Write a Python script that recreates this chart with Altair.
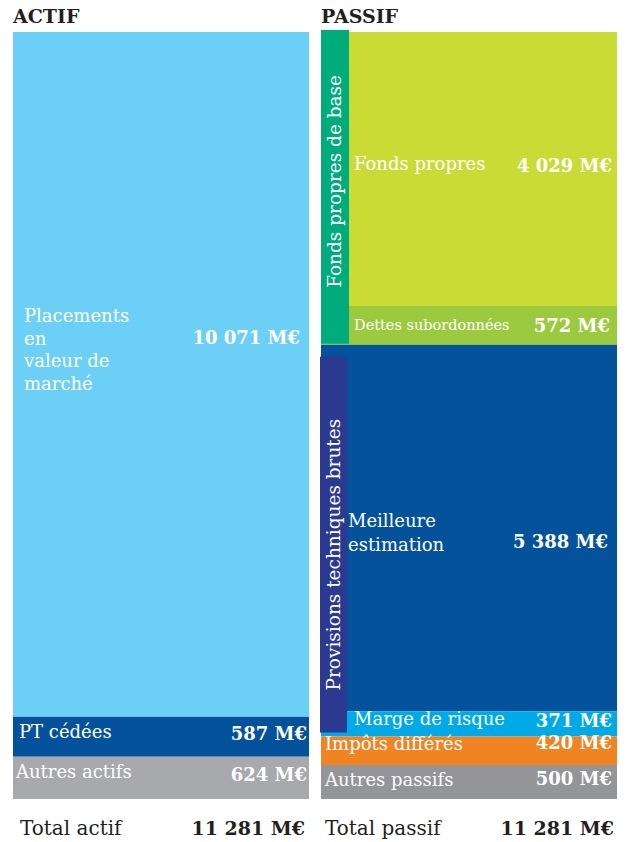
import altair as alt
import pandas as pd

# ---------------- data ----------------
actif_labels = ["Placements\nen\nvaleur de\nmarché", "PT cédées", "Autres actifs"]
actif_values = [10071, 587, 624]
actif_colors = ["#6BCFF6", "#04529B", "#A7A9AC"]

passif_labels = ["Fonds propres", "Dettes subordonnées", "Meilleure\nestimation",
                 "Marge de risque", "Impôts différés", "Autres passifs"]
passif_values = [4029, 572, 5388, 371, 420, 500]
passif_colors = ["#CADB36", "#9CCA3E", "#04529B", "#00A9E7", "#F18422", "#939598"]
passif_groups = ["Fonds propres de base", "Fonds propres de base",
                 "Provisions techniques brutes", "Provisions techniques brutes", "", ""]

group_names = ["Fonds propres de base", "Provisions techniques brutes"]
group_colors = ["#00AC7B", "#2B3990"]

titles = ["ACTIF", "PASSIF"]
total_labels = ["Total actif", "Total passif"]
total_actif = 11281
total_passif = 11281


def fmt(v):
    return f"{v:,}".replace(",", " ") + " M€"


rows = []
for i, (l, v) in enumerate(zip(actif_labels, actif_values)):
    rows.append(dict(side="actif", label=l, value=v, order=i, group="", vtxt=fmt(v)))
for i, (l, v, g) in enumerate(zip(passif_labels, passif_values, passif_groups)):
    rows.append(dict(side="passif", label=l, value=v, order=i, group=g, vtxt=fmt(v)))
df = pd.DataFrame(rows)

# ---------------- layout / style ----------------
W, H = 628, 842
Y = alt.Scale(domain=[0, total_actif], range=[32, 799], nice=False, zero=False)
SERIF = "DejaVu Serif"
COLX = {"actif": (13, 309), "passif": (321, 617)}
COLOR = alt.Scale(domain=actif_labels + passif_labels, range=actif_colors + passif_colors)

# per-label style: (label x, label dy, label size, value right x, value dy)
STYLE = {
    actif_labels[0]: (24, -57, 18, 300, -35),
    actif_labels[1]: (19, -4, 18, 307, -2),
    actif_labels[2]: (16, -5, 18, 307, -2),
    passif_labels[0]: (354, -4, 18, 612, -2),
    passif_labels[1]: (354, 1, 14.5, 610, 2),
    passif_labels[2]: (348, -6, 18, 608, 15),
    passif_labels[3]: (354, -4, 18, 612, -2),
    passif_labels[4]: (325, -6, 18, 612, -7),
    passif_labels[5]: (325, -1, 18, 612, -2),
}
LINE_H = {actif_labels[0]: 22.5, passif_labels[2]: 24}

base = alt.Chart(df).transform_window(
    cum="sum(value)", frame=[None, 0], groupby=["side"], sort=[{"field": "order"}]
).transform_calculate(
    start="datum.cum - datum.value", mid="datum.cum - datum.value / 2"
)

layers = []
# blocks
for side in ["actif", "passif"]:
    x0, x1 = COLX[side]
    layers.append(
        base.transform_filter(alt.datum.side == side).mark_rect().encode(
            x=alt.value(x0), x2=alt.value(x1),
            y=alt.Y("start:Q", scale=Y, axis=None), y2="cum:Q",
            color=alt.Color("label:N", scale=COLOR, legend=None),
        )
    )

# group strips
strip_style = {
    group_names[0]: (321, 349, -2, -1, 7),
    group_names[1]: (320, 347, 12, -4, -14),
}
for g, c in zip(group_names, group_colors):
    x0, x1, yo, y2o, tdx = strip_style[g]
    gb = base.transform_filter(alt.datum.group == g).transform_aggregate(
        s="min(start)", e="max(cum)", groupby=["group"]
    ).transform_calculate(m="(datum.s + datum.e) / 2")
    layers.append(
        gb.mark_rect(color=c, yOffset=yo, y2Offset=y2o).encode(
            x=alt.value(x0), x2=alt.value(x1),
            y=alt.Y("s:Q", scale=Y, axis=None), y2="e:Q",
        )
    )
    layers.append(
        gb.mark_text(angle=270, font=SERIF, fontSize=18.5, color="white",
                     align="center", baseline="middle", dx=tdx).encode(
            x=alt.value((x0 + x1) / 2), y=alt.Y("m:Q", scale=Y, axis=None),
            text="group:N",
        )
    )

# block labels and values
for lab, (lx, ldy, lsz, vx, vdy) in STYLE.items():
    b = base.transform_filter(alt.datum.label == lab)
    layers.append(
        b.mark_text(font=SERIF, fontSize=lsz, color="white", align="left",
                    baseline="middle", dy=ldy, lineBreak="\n",
                    lineHeight=LINE_H.get(lab, 22.5)).encode(
            x=alt.value(lx), y=alt.Y("mid:Q", scale=Y, axis=None), text="label:N",
        )
    )
    layers.append(
        b.mark_text(font=SERIF, fontSize=18, fontWeight="bold", color="white",
                    align="right", baseline="middle", dy=vdy).encode(
            x=alt.value(vx), y=alt.Y("mid:Q", scale=Y, axis=None), text="vtxt:N",
        )
    )

# titles
for t, x in zip(titles, [13, 321]):
    layers.append(
        alt.Chart(pd.DataFrame({"t": [t]})).mark_text(
            font=SERIF, fontSize=19, fontWeight="bold", color="#231F20",
            align="left", baseline="middle").encode(
            x=alt.value(x), y=alt.value(17), text="t:N")
    )

# totals
for lab, tot, lx, vx in zip(total_labels, [total_actif, total_passif], [20, 325], [305, 614]):
    layers.append(
        alt.Chart(pd.DataFrame({"t": [lab]})).mark_text(
            font=SERIF, fontSize=20, color="#231F20", align="left", baseline="middle").encode(
            x=alt.value(lx), y=alt.value(829), text="t:N")
    )
    layers.append(
        alt.Chart(pd.DataFrame({"t": [fmt(tot)]})).mark_text(
            font=SERIF, fontSize=19, fontWeight="bold", color="#231F20",
            align="right", baseline="middle").encode(
            x=alt.value(vx), y=alt.value(829), text="t:N")
    )

chart = alt.layer(*layers).properties(
    width=W, height=H, padding=0, autosize="none", background="white"
).configure_view(stroke=None)

chart.save("out.html", embed_options={"renderer": "svg", "actions": False})
